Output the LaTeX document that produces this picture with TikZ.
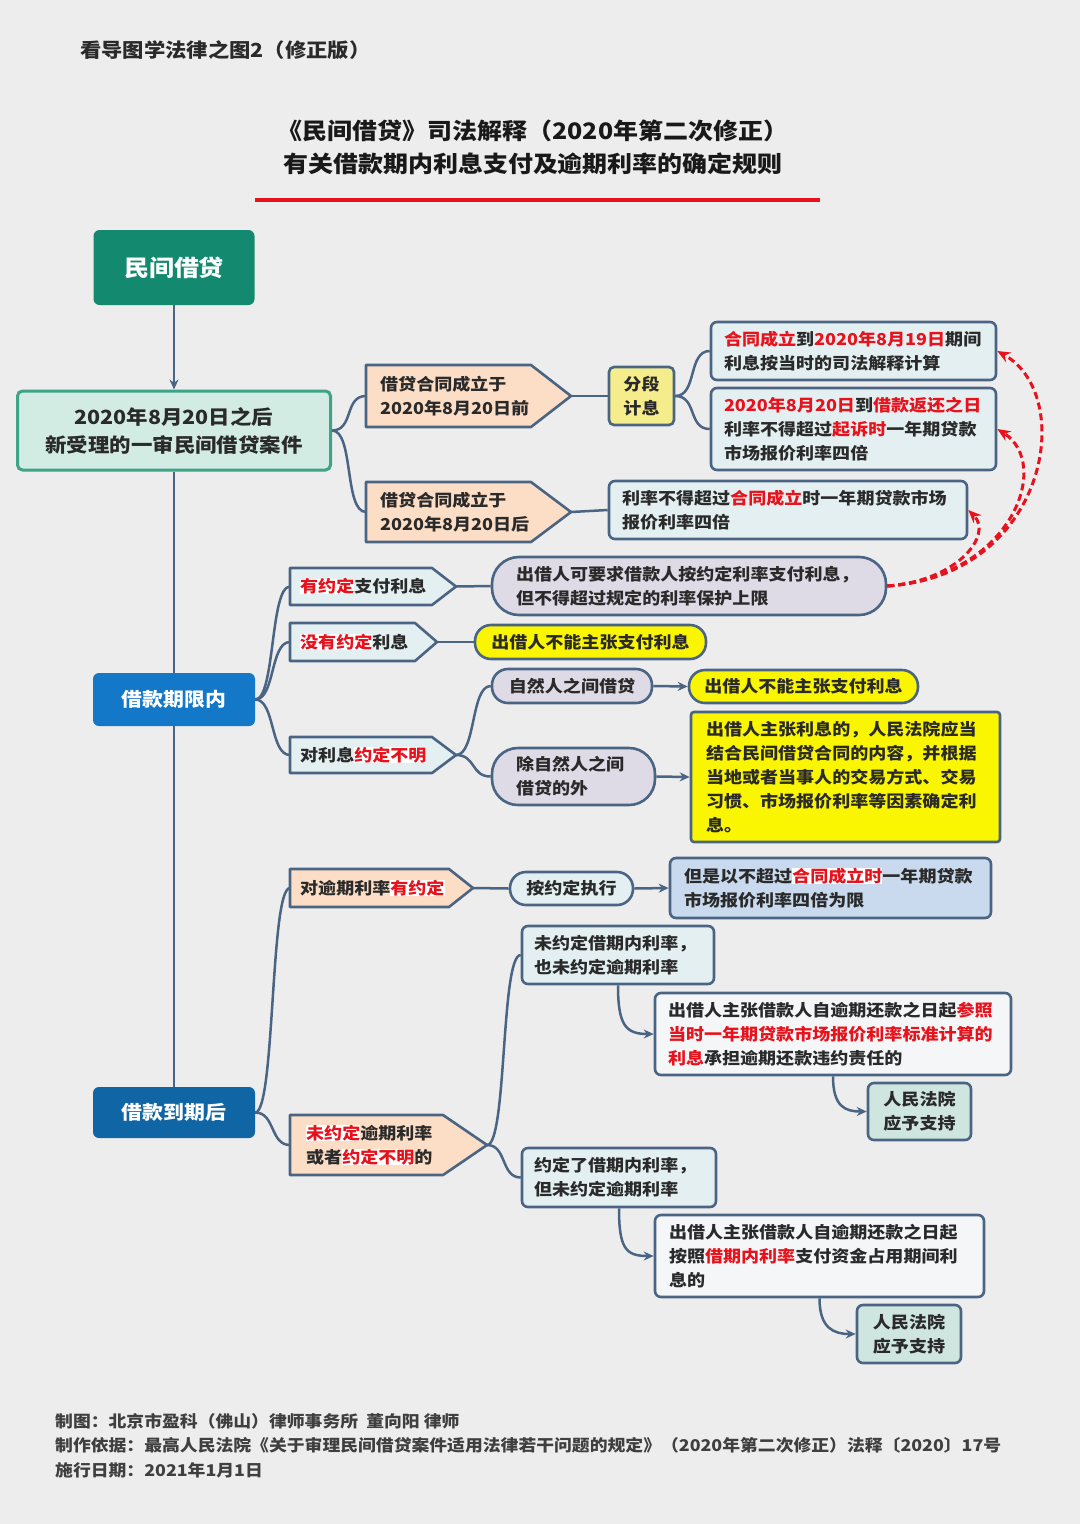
\documentclass[tikz,border=0pt]{standalone}
\usepackage{fontspec}
\setmainfont{Noto Sans CJK SC}[FakeStretch=1.1]
\usetikzlibrary{arrows.meta}
\definecolor{bgc}{HTML}{EDEDED}
\definecolor{slate}{HTML}{4A6483}
\definecolor{ink}{HTML}{2A2A2A}
\definecolor{myred}{HTML}{E8121C}
\definecolor{dgreen}{HTML}{138A70}
\definecolor{mintA}{HTML}{D2ECE4}
\definecolor{mintB}{HTML}{3FA386}
\definecolor{blueA}{HTML}{1478C8}
\definecolor{blueB}{HTML}{1065A5}
\definecolor{peach}{HTML}{FCDDC5}
\definecolor{lightc}{HTML}{E3EFF0}
\definecolor{lavender}{HTML}{DEDAE6}
\definecolor{yelB}{HTML}{FAF500}
\definecolor{yelP}{HTML}{F5EC8C}
\definecolor{lblue}{HTML}{C9DAEE}
\definecolor{whitish}{HTML}{F4F6F8}
\definecolor{court}{HTML}{CFE5E0}
\newcommand\rd[1]{\textcolor{myred}{#1}}
\newcommand\hlr[1]{{\setlength{\fboxsep}{0pt}\colorbox{white}{\textcolor{myred}{#1}}}}
\tikzset{
  txt/.style={font=\bfseries\fontsize{16.4}{24}\selectfont, text=ink, inner sep=0pt},
  box/.style={draw=slate, line width=2.6pt, rounded corners=6pt, inner xsep=13pt, inner ysep=0pt,
    font=\bfseries\fontsize{16.4}{24}\selectfont, text=ink, align=left},
  pentshape/.style={draw=slate, line width=2.6pt, line join=round},
  conn/.style={draw=slate, line width=2.5pt},
  arr/.style={conn, -{Stealth[length=10pt,width=9pt]}},
  reddash/.style={draw=myred, line width=3pt, dash pattern=on 7pt off 4pt, -{Stealth[length=13pt,width=11pt]}},
  foot/.style={anchor=west, font=\bfseries\fontsize{16.2}{22}\selectfont, text=ink!90, inner sep=0pt},
}
\newcommand\pentbox[9]{%
  \path[pentshape, fill=#7] (#2,#3) -- (#4,#3) -- (#5,{(#3+#6)/2}) -- (#4,#6) -- (#2,#6) -- cycle;
  \node[txt, anchor=west, align=left] (#1) at ({#2+#9},{(#3+#6)/2}) {#8};
  \coordinate (#1-tip) at (#5,{(#3+#6)/2});
  \coordinate (#1-in) at (#2,{(#3+#6)/2});
}
\begin{document}
\begin{tikzpicture}[x=1pt,y=-1pt]
\useasboundingbox (0,0) rectangle (1080,1524);
\fill[bgc] (0,0) rectangle (1080,1524);

% header
\node[anchor=west, font=\bfseries\fontsize{19.4}{24}\selectfont, text=ink, inner sep=0pt] (toplabel) at (80,50) {看导图学法律之图2（修正版）};
\node[align=center, font=\bfseries\fontsize{22.7}{33}\selectfont, text=black!90, inner sep=0pt] (title) at (533,147) {《民间借贷》司法解释（2020年第二次修正）\\有关借款期内利息支付及逾期利率的确定规则};
\draw[myred, line width=4pt] (255,200) -- (820,200);

% main nodes
\node[fill=dgreen, rounded corners=6pt, minimum width=161pt, minimum height=75pt, font=\bfseries\fontsize{22.7}{28}\selectfont, text=white] (root) at (174,267.5) {民间借贷};
\node[draw=mintB, fill=mintA, line width=3pt, rounded corners=5pt, minimum width=313pt, minimum height=79pt, align=center, font=\bfseries\fontsize{19.5}{28}\selectfont, text=ink] (A) at (174,430.5) {2020年8月20日之后\\新受理的一审民间借贷案件};
\node[fill=blueA, rounded corners=6pt, minimum width=162pt, minimum height=53pt, font=\bfseries\fontsize{19}{24}\selectfont, text=white] (lim) at (174,699.5) {借款期限内};
\node[fill=blueB, rounded corners=6pt, minimum width=162pt, minimum height=51pt, font=\bfseries\fontsize{19}{24}\selectfont, text=white] (due) at (174,1112.5) {借款到期后};

% pentagons
\pentbox{p1}{366}{365}{531}{571}{427}{peach}{借贷合同成立于\\2020年8月20日前}{14}
\pentbox{p2}{366}{482}{531}{571}{542}{peach}{借贷合同成立于\\2020年8月20日后}{14}
\pentbox{p3}{290}{568}{432}{456}{605}{lightc}{\hlr{有约定}支付利息}{10}
\pentbox{p4}{290}{623}{415}{437}{661}{lightc}{\hlr{没有约定}利息}{10}
\pentbox{p5}{290}{737}{432}{456}{773}{lightc}{对利息\hlr{约定不明}}{10}
\pentbox{p6}{290}{869}{449}{473}{907}{peach}{对逾期利率\hlr{有约定}}{10}
\pentbox{p7}{290}{1115}{443}{487}{1175}{peach}{\hlr{未约定}逾期利率\\或者\hlr{约定不明}的}{16}

% first section boxes
\node[box, fill=yelP, align=center, inner xsep=0pt, minimum width=65pt, minimum height=58pt, rounded corners=5pt] (fd) at (641.5,396) {分段\\计息};
\node[box, fill=lightc, minimum width=285pt, minimum height=58pt, text width=259pt] (b1) at (853.5,351) {\rd{合同成立}到\rd{2020年8月19日}期间\\利息按当时的司法解释计算};
\node[box, fill=lightc, minimum width=285pt, minimum height=82pt, text width=259pt] (b2) at (853.5,429) {\rd{2020年8月20日}到\rd{借款返还之日}\\利率不得超过\rd{起诉时}一年期贷款\\市场报价利率四倍};
\node[box, fill=lightc, minimum width=358pt, minimum height=58pt, text width=332pt] (b3) at (788,510) {利率不得超过\rd{合同成立}时一年期贷款市场\\报价利率四倍};

% within term boxes
\node[box, fill=lavender, rounded corners=27pt, inner xsep=24pt, minimum width=394pt, minimum height=58pt, text width=346pt] (pill1) at (689,586) {出借人可要求借款人按约定利率支付利息，\\但不得超过规定的利率保护上限};
\node[box, fill=yelB, rounded corners=16pt, align=center, inner xsep=0pt, minimum width=231pt, minimum height=34pt] (ypill1) at (590.5,642) {出借人不能主张支付利息};
\node[box, fill=lavender, rounded corners=16pt, align=center, inner xsep=0pt, minimum width=160pt, minimum height=34pt] (pill2) at (572,686) {自然人之间借贷};
\node[box, fill=yelB, rounded corners=16pt, align=center, inner xsep=0pt, minimum width=229pt, minimum height=33pt] (ypill2) at (803.5,686.5) {出借人不能主张支付利息};
\node[box, fill=lavender, rounded corners=26pt, inner xsep=24pt, minimum width=163pt, minimum height=57pt, text width=115pt] (pill3) at (573.5,776.5) {除自然人之间\\借贷的外};
\node[box, fill=yelB, rounded corners=3pt, inner xsep=15pt, minimum width=309pt, minimum height=130pt, text width=279pt] (ybox) at (845.5,777) {出借人主张利息的，人民法院应当\\结合民间借贷合同的内容，并根据\\当地或者当事人的交易方式、交易\\习惯、市场报价利率等因素确定利\\息。};

% after due boxes
\node[box, fill=lightc, rounded corners=16pt, align=center, inner xsep=0pt, minimum width=123pt, minimum height=33pt] (pill4) at (571.5,888.5) {按约定执行};
\node[box, fill=lblue, inner xsep=14pt, minimum width=321pt, minimum height=60pt, text width=293pt] (lb) at (830.5,888) {但是以不超过\hlr{合同成立时}一年期贷款\\市场报价利率四倍为限};
\node[box, fill=lightc, inner xsep=12pt, minimum width=192pt, minimum height=58pt, text width=168pt] (c1) at (618,955) {未约定借期内利率，\\也未约定逾期利率};
\node[box, fill=whitish, minimum width=356pt, minimum height=82pt, text width=330pt] (d1) at (833,1034) {出借人主张借款人自逾期还款之日起\rd{参照}\\\rd{当时一年期贷款市场报价利率标准计算的}\\\rd{利息}承担逾期还款违约责任的};
\node[box, fill=court, align=center, inner xsep=0pt, minimum width=103pt, minimum height=57pt] (e1) at (919.5,1111.5) {人民法院\\应予支持};
\node[box, fill=lightc, inner xsep=12pt, minimum width=194pt, minimum height=59pt, text width=170pt] (c2) at (619,1177.5) {约定了借期内利率，\\但未约定逾期利率};
\node[box, fill=whitish, inner xsep=14pt, minimum width=329pt, minimum height=82pt, text width=301pt] (d2) at (819.5,1256) {出借人主张借款人自逾期还款之日起\\按照\rd{借期内利率}支付资金占用期间利\\息的};
\node[box, fill=court, align=center, inner xsep=0pt, minimum width=104pt, minimum height=58pt] (e2) at (909,1334) {人民法院\\应予支持};

% footer
\node[foot] (f1) at (55,1421) {制图：北京市盈科（佛山）律师事务所\ \ 董向阳 律师};
\node[foot] (f2) at (55,1445) {制作依据：最高人民法院《关于审理民间借贷案件适用法律若干问题的规定》（2020年第二次修正）法释〔2020〕17号};
\node[foot] (f3) at (55,1470) {施行日期：2021年1月1日};

% connectors
\draw[arr] (root.south) -- (A.north);
\draw[conn] (A.south) -- (lim.north);
\draw[conn] (lim.south) -- (due.north);
\draw[conn] (A.east) .. controls +(22,0) and +(-22,0) .. (p1-in);
\draw[conn] (A.east) .. controls +(22,0) and +(-22,0) .. (p2-in);
\draw[conn] (p1-tip) -- (fd.west);
\draw[conn] (fd.east) .. controls +(22,0) and +(-22,0) .. (b1.west);
\draw[conn] (fd.east) .. controls +(22,0) and +(-22,0) .. (b2.west);
\draw[conn] (p2-tip) -- (b3.west);

\draw[conn] (lim.east) .. controls +(20,0) and +(-20,0) .. (p3-in);
\draw[conn] (lim.east) .. controls +(20,0) and +(-20,0) .. (p4-in);
\draw[conn] (lim.east) .. controls +(20,0) and +(-20,0) .. (p5-in);
\draw[conn] (p3-tip) -- (pill1.west);
\draw[conn] (p4-tip) -- (ypill1.west);
\draw[conn] (p5-tip) .. controls +(20,0) and +(-20,0) .. (pill2.west);
\draw[conn] (p5-tip) .. controls +(20,0) and +(-20,0) .. (pill3.west);
\draw[arr] (pill2.east) -- (ypill2.west);
\draw[arr] (pill3.east) -- (ybox.west);

\draw[conn] (due.east) .. controls +(20,0) and +(-20,0) .. (p6-in);
\draw[conn] (due.east) .. controls +(20,0) and +(-20,0) .. (p7-in);
\draw[conn] (p6-tip) -- (pill4.west);
\draw[arr] (pill4.east) -- (lb.west);
\draw[conn] (p7-tip) .. controls +(20,0) and +(-20,0) .. (c1.west);
\draw[conn] (p7-tip) .. controls +(20,0) and +(-20,0) .. (c2.west);
\draw[arr] (c1.south) .. controls +(0,40) and +(-28,0) .. (d1.west);
\draw[arr] (d1.south) .. controls +(0,30) and +(-22,0) .. (e1.west);
\draw[arr] (c2.south) .. controls +(0,40) and +(-28,0) .. (d2.west);
\draw[arr] (d2.south) .. controls +(0,30) and +(-22,0) .. (e2.west);

% red dashed references
\draw[reddash] (pill1.east) .. controls +(160,-10) and +(80,45) .. (b1.east);
\draw[reddash] (pill1.east) .. controls +(125,-10) and +(55,35) .. (b2.east);
\draw[reddash] (pill1.east) .. controls +(70,-5) and +(25,25) .. (b3.east);
\end{tikzpicture}
\end{document}
